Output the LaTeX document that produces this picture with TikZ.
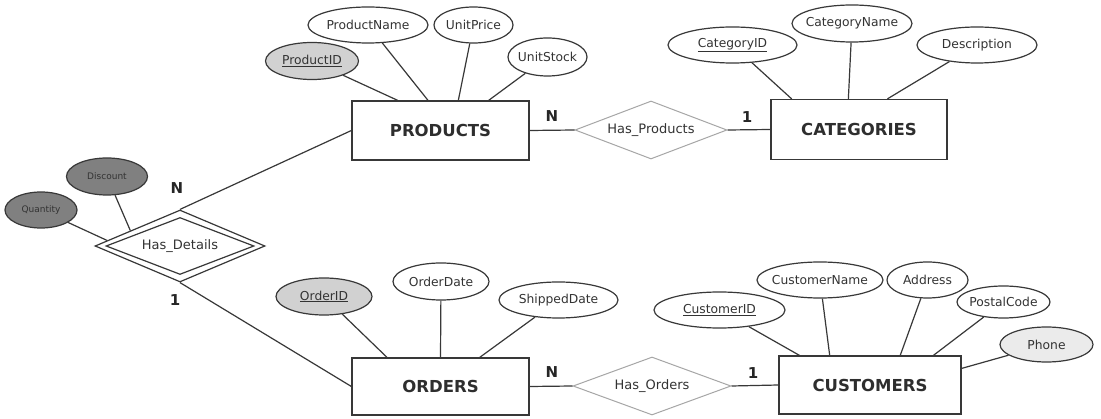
\documentclass[tikz,border=0pt]{standalone}
\usepackage{fontspec}
\setmainfont{DejaVu Sans}
\usetikzlibrary{shapes.geometric,calc}
% centred text that does not widen its node
\newcommand\ctext[1]{\makebox[0pt]{#1}}
\begin{document}
\begin{tikzpicture}[x=1pt,y=-1pt,
  ink/.style={draw=black!78, line width=1.2pt},
  entity/.style={rectangle, ink, fill=white, inner sep=0pt,
    font=\fontsize{16.5}{18}\selectfont\bfseries, text=black!82},
  attr/.style={ellipse, ink, fill=white, inner sep=0pt,
    font=\fontsize{12.3}{14}\selectfont, text=black!80},
  keyattr/.style={attr, fill=black!18},
  darkattr/.style={attr, fill=black!50, font=\fontsize{9}{10}\selectfont},
  rel/.style={diamond, draw=black!35, line width=1pt, fill=white, inner sep=0pt,
    font=\fontsize{13}{15}\selectfont, text=black!80},
  weakrel/.style={diamond, ink, inner sep=0pt,
    font=\fontsize{13}{15}\selectfont, text=black!80},
  card/.style={font=\fontsize{15}{17}\selectfont\bfseries, text=black!85},
  link/.style={ink}
]
\useasboundingbox (0,0) rectangle (1101,419);
\fill[white] (0,0) rectangle (1101,419);

% entities
\node[entity, minimum width=177pt, minimum height=59pt] (prod) at (440.5,130.5) {PRODUCTS};
\node[entity, minimum width=176pt, minimum height=60pt] (cat)  at (859,129.5)  {CATEGORIES};
\node[entity, minimum width=177pt, minimum height=57pt] (ord)  at (440.5,386.5) {ORDERS};
\node[entity, minimum width=182pt, minimum height=58pt] (cust) at (870,385)    {CUSTOMERS};

% relationships
\node[rel, minimum width=152pt, minimum height=58pt] (hasprod) at (651,130) {\ctext{Has\_Products}};
\node[rel, minimum width=158pt, minimum height=58pt] (hasord)  at (652,386) {\ctext{Has\_Orders}};
\node[weakrel, minimum width=170pt, minimum height=72pt] (hasdet) at (180,246) {};
\node[weakrel, minimum width=148pt, minimum height=57pt] (hasdetin) at (hasdet.center) {\ctext{Has\_Details}};

% attributes of PRODUCTS
\node[keyattr, minimum width=93pt,  minimum height=37pt] (pid)    at (312,61)    {\ctext{\underline{ProductID}}};
\node[attr,    minimum width=120pt, minimum height=36pt] (pname)  at (368,25)    {\ctext{ProductName}};
\node[attr,    minimum width=79pt,  minimum height=36pt] (uprice) at (473.5,25)  {\ctext{UnitPrice}};
\node[attr,    minimum width=79pt,  minimum height=38pt] (ustock) at (547.5,57)  {\ctext{UnitStock}};

% attributes of CATEGORIES
\node[attr, minimum width=129pt, minimum height=36pt] (catid)   at (732.5,45)  {\ctext{\underline{CategoryID}}};
\node[attr, minimum width=120pt, minimum height=37pt] (catname) at (852,23.5)  {\ctext{CategoryName}};
\node[attr, minimum width=120pt, minimum height=36pt] (desc)    at (977,45)    {\ctext{Description}};

% attributes of ORDERS
\node[keyattr, minimum width=96pt,  minimum height=37pt] (oid)   at (324,296.5) {\ctext{\underline{OrderID}}};
\node[attr,    minimum width=96pt,  minimum height=37pt] (odate) at (441,281.5) {\ctext{OrderDate}};
\node[attr,    minimum width=119pt, minimum height=36pt] (sdate) at (558.5,300) {\ctext{ShippedDate}};

% attributes of CUSTOMERS
\node[attr, minimum width=131pt, minimum height=36pt] (custid)   at (719.5,310)  {\ctext{\underline{CustomerID}}};
\node[attr, minimum width=126pt, minimum height=36pt] (custname) at (820,280)    {\ctext{CustomerName}};
\node[attr, minimum width=81pt,  minimum height=36pt] (addr)     at (927.5,280)  {\ctext{Address}};
\node[attr, minimum width=93pt,  minimum height=32pt] (postal)   at (1003.5,302) {\ctext{PostalCode}};
\node[attr, fill=black!8, minimum width=93pt, minimum height=35pt] (phone) at (1046.5,344.5) {\ctext{Phone}};

% attributes of Has_Details
\node[darkattr, minimum width=72pt, minimum height=36pt] (qty)  at (41,210)    {\ctext{Quantity}};
\node[darkattr, minimum width=81pt, minimum height=37pt] (disc) at (107,176.5) {\ctext{Discount}};

% attribute links
\draw[link] (pid)    -- ($(prod.north west)!0.26!(prod.north east)$);
\draw[link] (pname)  -- ($(prod.north west)!0.43!(prod.north east)$);
\draw[link] (uprice) -- ($(prod.north west)!0.60!(prod.north east)$);
\draw[link] (ustock) -- ($(prod.north west)!0.77!(prod.north east)$);

\draw[link] (catid)   -- ($(cat.north west)!0.12!(cat.north east)$);
\draw[link] (catname) -- ($(cat.north west)!0.44!(cat.north east)$);
\draw[link] (desc)    -- ($(cat.north west)!0.66!(cat.north east)$);

\draw[link] (oid)   -- ($(ord.north west)!0.20!(ord.north east)$);
\draw[link] (odate) -- ($(ord.north west)!0.50!(ord.north east)$);
\draw[link] (sdate) -- ($(ord.north west)!0.72!(ord.north east)$);

\draw[link] (custid)   -- ($(cust.north west)!0.115!(cust.north east)$);
\draw[link] (custname) -- ($(cust.north west)!0.28!(cust.north east)$);
\draw[link] (addr)     -- ($(cust.north west)!0.665!(cust.north east)$);
\draw[link] (postal)   -- ($(cust.north west)!0.846!(cust.north east)$);
\draw[link] (phone)    -- ($(cust.north east)!0.22!(cust.south east)$);

\draw[link] (qty)  -- ($(hasdet.west)!0.15!(hasdet.north)$);
\draw[link] (disc) -- ($(hasdet.west)!0.42!(hasdet.north)$);

% relationship links
\draw[link] (prod.east) -- (hasprod.west);
\draw[link] (hasprod.east) -- (cat.west);
\draw[link] (ord.east) -- (hasord.west);
\draw[link] (hasord.east) -- (cust.west);
\draw[link] (hasdet.north) -- (prod.west);
\draw[link] (hasdet.south) -- (ord.west);

% cardinalities
\node[card] (cpn) at (552,116) {N};
\node[card] (cc1) at (747,117) {1};
\node[card] (cdn) at (177,188) {N};
\node[card] (cd1) at (175,300) {1};
\node[card] (con) at (552,372) {N};
\node[card] (co1) at (753,373) {1};
\end{tikzpicture}
\end{document}
